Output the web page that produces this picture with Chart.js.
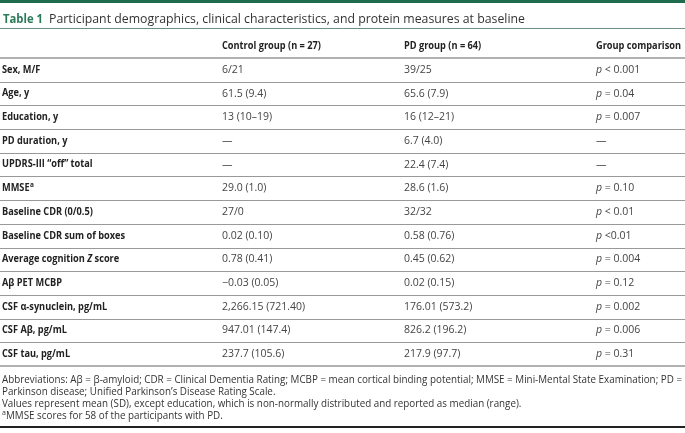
<!DOCTYPE html>
<html>
<head>
<meta charset="utf-8">
<script src="https://cdn.jsdelivr.net/npm/chart.js@4.4.0/dist/chart.umd.min.js"></script>
<style>
  html, body { margin: 0; padding: 0; background: #fff; }
  #tableChart { display: block; }
</style>
</head>
<body>
<canvas id="tableChart" width="685" height="433"></canvas>
<script>
const tableTitle = 'Participant demographics, clinical characteristics, and protein measures at baseline';
const columnHeaders = ['', 'Control group (n = 27)', 'PD group (n = 64)', 'Group comparison'];
const rowLabels = [
  'Sex, M/F',
  'Age, y',
  'Education, y',
  'PD duration, y',
  'UPDRS-III \u201coff\u201d total',
  'MMSE^a',
  'Baseline CDR (0/0.5)',
  'Baseline CDR sum of boxes',
  'Average cognition *Z* score',
  'A\u03b2 PET MCBP',
  'CSF \u03b1-synuclein, pg/mL',
  'CSF A\u03b2, pg/mL',
  'CSF tau, pg/mL'
];
const controlValues = ['6/21', '61.5 (9.4)', '13 (10\u201319)', '\u2014', '\u2014', '29.0 (1.0)', '27/0', '0.02 (0.10)', '0.78 (0.41)', '\u22120.03 (0.05)', '2,266.15 (721.40)', '947.01 (147.4)', '237.7 (105.6)'];
const pdValues = ['39/25', '65.6 (7.9)', '16 (12\u201321)', '6.7 (4.0)', '22.4 (7.4)', '28.6 (1.6)', '32/32', '0.58 (0.76)', '0.45 (0.62)', '0.02 (0.15)', '176.01 (573.2)', '826.2 (196.2)', '217.9 (97.7)'];
const comparisonValues = ['*p* < 0.001', '*p* = 0.04', '*p* = 0.007', '\u2014', '\u2014', '*p* = 0.10', '*p* < 0.01', '*p* <0.01', '*p* = 0.004', '*p* = 0.12', '*p* = 0.002', '*p* = 0.006', '*p* = 0.31'];
const footnotes = [
  'Abbreviations: A\u03b2 = \u03b2-amyloid; CDR = Clinical Dementia Rating; MCBP = mean cortical binding potential; MMSE = Mini-Mental State Examination; PD =',
  'Parkinson disease; Unified Parkinson\u2019s Disease Rating Scale.',
  'Values represent mean (SD), except education, which is non-normally distributed and reported as median (range).',
  '^a MMSE scores for 58 of the participants with PD.'
];

const FONT = '"Open Sans", "DejaVu Sans", sans-serif';
const colX = [2, 222, 404, 596];

// draw text with *italic* and ^superscript markup, sq = horizontal squeeze
function drawRich(ctx, text, x, y, size, weight, color, sq) {
  const parts = text.split(/(\*[^*]+\*|\^[a-z])/).filter(p => p.length);
  ctx.fillStyle = color;
  ctx.textBaseline = 'middle';
  ctx.textAlign = 'left';
  for (const p of parts) {
    let t = p, font = weight + ' ' + size + 'px ' + FONT, dy = 0, gap = 0;
    if (p[0] === '*') {
      t = p.slice(1, -1);
      font = 'italic ' + font;
    } else if (p[0] === '^') {
      t = p.slice(1);
      font = weight + ' ' + Math.round(size * 0.65) + 'px ' + FONT;
      dy = -size * 0.35;
      gap = 1;
    }
    ctx.font = font;
    const w = ctx.measureText(t).width * sq;
    ctx.fillText(t, x + gap / 2, y + dy, w);
    x += w + gap;
  }
}

function hLine(ctx, y, color, w) {
  ctx.save();
  ctx.strokeStyle = color;
  ctx.lineWidth = w;
  ctx.beginPath();
  ctx.moveTo(0, y);
  ctx.lineTo(685, y);
  ctx.stroke();
  ctx.restore();
}

const tablePlugin = {
  id: 'tablePlugin',
  afterDraw(chart) {
    const ctx = chart.ctx;
    const area = chart.chartArea;
    const y = chart.scales.y;

    // top band and title
    ctx.fillStyle = '#1f6b4d';
    ctx.fillRect(0, 0, 685, 3);
    ctx.textBaseline = 'middle';
    ctx.textAlign = 'left';
    ctx.font = 'bold 12.5px ' + FONT;
    ctx.fillStyle = '#2a7a58';
    ctx.fillText('Table 1', 3, 19, 40);
    ctx.font = '12.5px ' + FONT;
    ctx.fillStyle = '#333';
    ctx.fillText(tableTitle, 49, 19, 476);
    hLine(ctx, 28.5, '#6f8f86', 1);

    // bold text is narrower in the original: squeeze to match
    ctx.font = 'bold 10px ' + FONT;
    const boldSq = 85 / ctx.measureText('Group comparison').width;

    // header
    columnHeaders.forEach((h, c) => {
      if (h) drawRich(ctx, h, colX[c], 46, 10, 'bold', '#222', boldSq);
    });
    hLine(ctx, area.top, '#999', 1.5);

    // rows
    rowLabels.forEach((label, i) => {
      const py = y.getPixelForValue(i);
      drawRich(ctx, label, colX[0], py, 10, 'bold', '#222', boldSq);
      drawRich(ctx, controlValues[i], colX[1], py, 10.5, 'normal', '#444', 1);
      drawRich(ctx, pdValues[i], colX[2], py, 10.5, 'normal', '#444', 1);
      drawRich(ctx, comparisonValues[i], colX[3], py, 10.5, 'normal', '#444', 1);
      if (i < rowLabels.length - 1) {
        const next = y.getPixelForValue(i + 1);
        hLine(ctx, Math.round((py + next) / 2) + 0.5, '#999', 1.2);
      }
    });
    hLine(ctx, area.bottom, '#999', 1.5);

    // footnotes, condensed to the measured width
    ctx.font = '11px ' + FONT;
    const squeeze = 680 / ctx.measureText(footnotes[0]).width;
    footnotes.forEach((f, k) => {
      const fy = area.bottom + 14 + k * 12;
      ctx.fillStyle = '#333';
      ctx.textBaseline = 'middle';
      if (f.startsWith('^')) {
        ctx.font = '7px ' + FONT;
        ctx.fillText('a', 2, fy - 3);
        ctx.font = '11px ' + FONT;
        const t = f.slice(3);
        ctx.fillText(t, 6, fy, ctx.measureText(t).width * squeeze);
      } else {
        ctx.font = '11px ' + FONT;
        ctx.fillText(f, 2, fy, ctx.measureText(f).width * squeeze);
      }
    });
    ctx.fillStyle = '#222';
    ctx.fillRect(0, 426, 685, 2);
  }
};

new Chart(document.getElementById('tableChart').getContext('2d'), {
  type: 'bar',
  data: {
    labels: rowLabels,
    datasets: []
  },
  options: {
    responsive: false,
    devicePixelRatio: 1,
    animation: false,
    indexAxis: 'y',
    layout: { padding: { top: 58, bottom: 67, left: 0, right: 0 } },
    plugins: { legend: { display: false }, tooltip: { enabled: false } },
    scales: {
      y: { type: 'category', display: false, offset: true },
      x: { display: false }
    }
  },
  plugins: [tablePlugin]
});
</script>
</body>
</html>
